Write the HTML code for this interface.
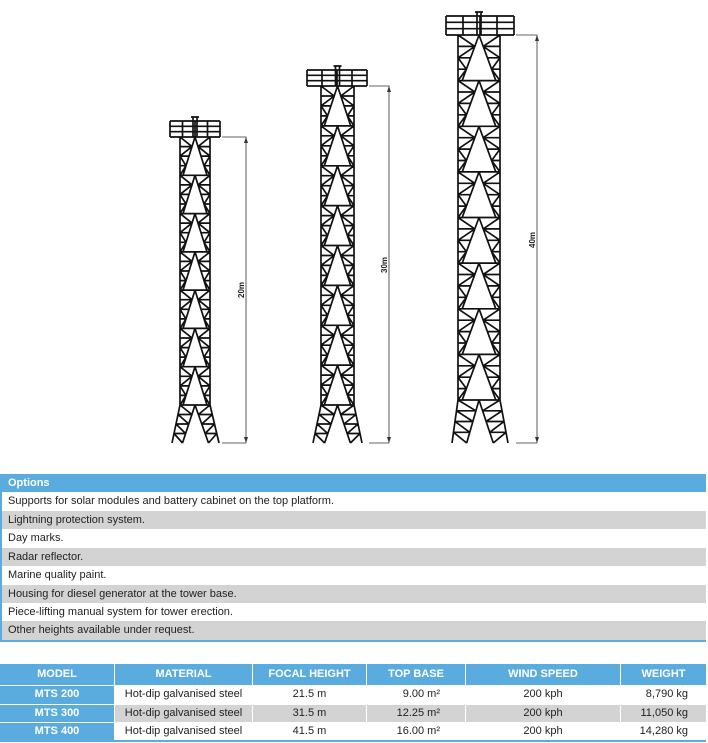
<!DOCTYPE html>
<html><head><meta charset="utf-8">
<style>
body{margin:0;width:708px;height:743px;background:#fff;font-family:"Liberation Sans",sans-serif;position:relative;overflow:hidden;font-size:11px;color:#222}
svg{position:absolute;left:0;top:0}
.r{position:absolute;left:2px;width:704px;box-sizing:border-box;padding-left:6px;white-space:nowrap}
.h{background:#5aabde;color:#fff;font-weight:bold}
.g{background:#d3d3d3}
.c{position:absolute;box-sizing:border-box;text-align:center;white-space:nowrap}
</style></head><body>
<svg id="s" width="708" height="460" viewBox="0 0 708 460">
<g id="t" stroke="#111" stroke-width="1.7" fill="none"></g>
<g stroke="#333" stroke-width="0.8" fill="none">
<path d="M222 137H246V443M222 443H246"/>
<path d="M369 86H389V443M369 443H389"/>
<path d="M516 35H537V443M516 443H537"/>
</g>
<g fill="#333"><path d="M246 137l-2 6h4z M246 443l-2 -6h4z M389 86l-2 6h4z M389 443l-2 -6h4z M537 35l-2 6h4z M537 443l-2 -6h4z"/></g>
<g font-size="8" font-weight="bold" fill="#222" font-family="Liberation Sans,sans-serif">
<text transform="translate(244,298) rotate(-90)">20m</text>
<text transform="translate(387,273) rotate(-90)">30m</text>
<text transform="translate(535,248) rotate(-90)">40m</text>
</g>
</svg>
<script>
(function(){
var g=document.getElementById('t'),d='';
function L(a,b,c,e){d+='M'+a.toFixed(1)+' '+b.toFixed(1)+'L'+c.toFixed(1)+' '+e.toFixed(1);}
function tower(pl,pr,pt,pb,l,r,top,n,bot,fl,fr){
 var cx=(l+r)/2,w=r-l;
 L(pl,pt,pr,pt);L(pr,pt,pr,pb);L(pr,pb,pl,pb);L(pl,pb,pl,pt);
 var ph=(pb-pt);L(pl,pt+ph/3,pr,pt+ph/3);L(pl,pt+2*ph/3,pr,pt+2*ph/3);
 for(var k=1;k<4;k++){var x=pl+(pr-pl)*k/4;L(x,pt,x,pb);}
 L(cx-2,pt-4,cx-2,pb);L(cx+2,pt-4,cx+2,pb);L(cx-4,pt-4,cx+4,pt-4);
 var h=(bot-top)/n;
 L(l,top,l,bot);L(r,top,r,bot);
 for(var i=0;i<n;i++){
  var y0=top+i*h,y1=y0+h;
  L(l,y0,r,y0);
  var bl=l+w*0.1,br=r-w*0.1;
  L(cx,y0,bl,y1);L(cx,y0,br,y1);
  for(var j=1;j<4;j++){
   var yy=y0+h*j/4,t=j/4;
   var xl=cx+(bl-cx)*t,xr=cx+(br-cx)*t;
   L(l,yy,xl,yy);L(r,yy,xr,yy);
  }
  for(var j=0;j<4;j++){
   var ya=y0+h*j/4,yb=y0+h*(j+1)/4,ta=j/4,tb=(j+1)/4;
   var xa=cx+(bl-cx)*ta,xb=cx+(bl-cx)*tb;
   if(j%2==0){L(l,ya,xb,yb);L(r,ya,2*cx-xb,yb);}else{L(xa,ya,l,yb);L(2*cx-xa,ya,r,yb);}
  }
 }
 L(l,bot,r,bot);
 L(l,bot,fl,443);L(r,bot,fr,443);
 var il=fl+w*0.35,ir=fr-w*0.35;
 L(cx,bot,il,443);L(cx,bot,ir,443);
 for(var j=1;j<4;j++){var t=j/4,yy=bot+(443-bot)*t;
  L(l+(fl-l)*t,yy,cx+(il-cx)*t,yy);L(r+(fr-r)*t,yy,cx+(ir-cx)*t,yy);}
 for(var j=0;j<4;j++){var ta=j/4,tb=(j+1)/4,ya=bot+(443-bot)*ta,yb=bot+(443-bot)*tb;
  L(l+(fl-l)*ta,ya,cx+(il-cx)*tb,yb);L(r+(fr-r)*ta,ya,cx+(ir-cx)*tb,yb);}
}
tower(170,220,121,137,180,210,137,7,405,172,219);
tower(307,367,70,86,321,354,86,8,405,313,362);
tower(446,514,16,35,458,500,35,8,400,452,508);
var p=document.createElementNS('http://www.w3.org/2000/svg','path');p.setAttribute('d',d);g.appendChild(p);
})();
</script>
<div style="position:absolute;left:0;top:474px;width:2px;height:168px;background:#5aabde"></div>
<div style="position:absolute;left:0;top:640px;width:706px;height:2px;background:#5aabde"></div>
<div class="r h" style="top:474px;height:18px;line-height:18px">Options</div>
<div class="r" style="top:492px;height:19px;line-height:19px">Supports for solar modules and battery cabinet on the top platform.</div>
<div class="r g" style="top:511px;height:18px;line-height:18px">Lightning protection system.</div>
<div class="r" style="top:529px;height:19px;line-height:19px">Day marks.</div>
<div class="r g" style="top:548px;height:18px;line-height:18px">Radar reflector.</div>
<div class="r" style="top:566px;height:19px;line-height:19px">Marine quality paint.</div>
<div class="r g" style="top:585px;height:18px;line-height:18px">Housing for diesel generator at the tower base.</div>
<div class="r" style="top:603px;height:18px;line-height:18px">Piece-lifting manual system for tower erection.</div>
<div class="r g" style="top:621px;height:19px;line-height:19px">Other heights available under request.</div>

<!-- spec table -->
<div style="position:absolute;left:0;top:664px;width:706px;height:21px;background:#5aabde"></div>
<div style="position:absolute;left:0;top:685px;width:114px;height:55px;background:#5aabde"></div>
<div class="g" style="position:absolute;left:115px;top:705px;width:591px;height:17px"></div>
<div style="position:absolute;left:0;top:740px;width:706px;height:2px;background:#5aabde"></div>
<div style="position:absolute;left:114px;top:664px;width:1px;height:21px;background:#fff"></div>
<div style="position:absolute;left:252px;top:664px;width:1px;height:76px;background:#fff"></div>
<div style="position:absolute;left:366px;top:664px;width:1px;height:76px;background:#fff"></div>
<div style="position:absolute;left:465px;top:664px;width:1px;height:76px;background:#fff"></div>
<div style="position:absolute;left:620px;top:664px;width:1px;height:76px;background:#fff"></div>
<div style="position:absolute;left:0;top:685px;width:114px;height:1px;background:#fff"></div>
<div style="position:absolute;left:0;top:704px;width:114px;height:1px;background:#fff"></div>
<div style="position:absolute;left:0;top:722px;width:114px;height:1px;background:#fff"></div>

<div style="position:absolute;left:0;top:664px;width:706px;height:21px;line-height:21px;color:#fff;font-weight:bold">
<span class="c" style="left:0;width:114px">MODEL</span>
<span class="c" style="left:115px;width:137px">MATERIAL</span>
<span class="c" style="left:253px;width:113px">FOCAL HEIGHT</span>
<span class="c" style="left:367px;width:98px">TOP BASE</span>
<span class="c" style="left:466px;width:154px">WIND SPEED</span>
<span class="c" style="left:621px;width:85px">WEIGHT</span>
</div>
<div style="position:absolute;left:0;top:685px;width:706px;height:19px;line-height:19px">
<span class="c" style="left:0;width:114px;color:#fff;font-weight:bold">MTS 200</span>
<span class="c" style="left:115px;width:137px">Hot-dip galvanised steel</span>
<span class="c" style="left:253px;width:113px">21.5 m</span>
<span class="c" style="left:367px;width:98px;text-align:right;padding-right:25px">9.00 m²</span>
<span class="c" style="left:466px;width:154px">200 kph</span>
<span class="c" style="left:621px;width:85px;text-align:right;padding-right:18px">8,790 kg</span>
</div>
<div style="position:absolute;left:0;top:704px;width:706px;height:18px;line-height:18px">
<span class="c" style="left:0;width:114px;color:#fff;font-weight:bold">MTS 300</span>
<span class="c" style="left:115px;width:137px">Hot-dip galvanised steel</span>
<span class="c" style="left:253px;width:113px">31.5 m</span>
<span class="c" style="left:367px;width:98px;text-align:right;padding-right:25px">12.25 m²</span>
<span class="c" style="left:466px;width:154px">200 kph</span>
<span class="c" style="left:621px;width:85px;text-align:right;padding-right:18px">11,050 kg</span>
</div>
<div style="position:absolute;left:0;top:722px;width:706px;height:18px;line-height:18px">
<span class="c" style="left:0;width:114px;color:#fff;font-weight:bold">MTS 400</span>
<span class="c" style="left:115px;width:137px">Hot-dip galvanised steel</span>
<span class="c" style="left:253px;width:113px">41.5 m</span>
<span class="c" style="left:367px;width:98px;text-align:right;padding-right:25px">16.00 m²</span>
<span class="c" style="left:466px;width:154px">200 kph</span>
<span class="c" style="left:621px;width:85px;text-align:right;padding-right:18px">14,280 kg</span>
</div>
</body></html>
